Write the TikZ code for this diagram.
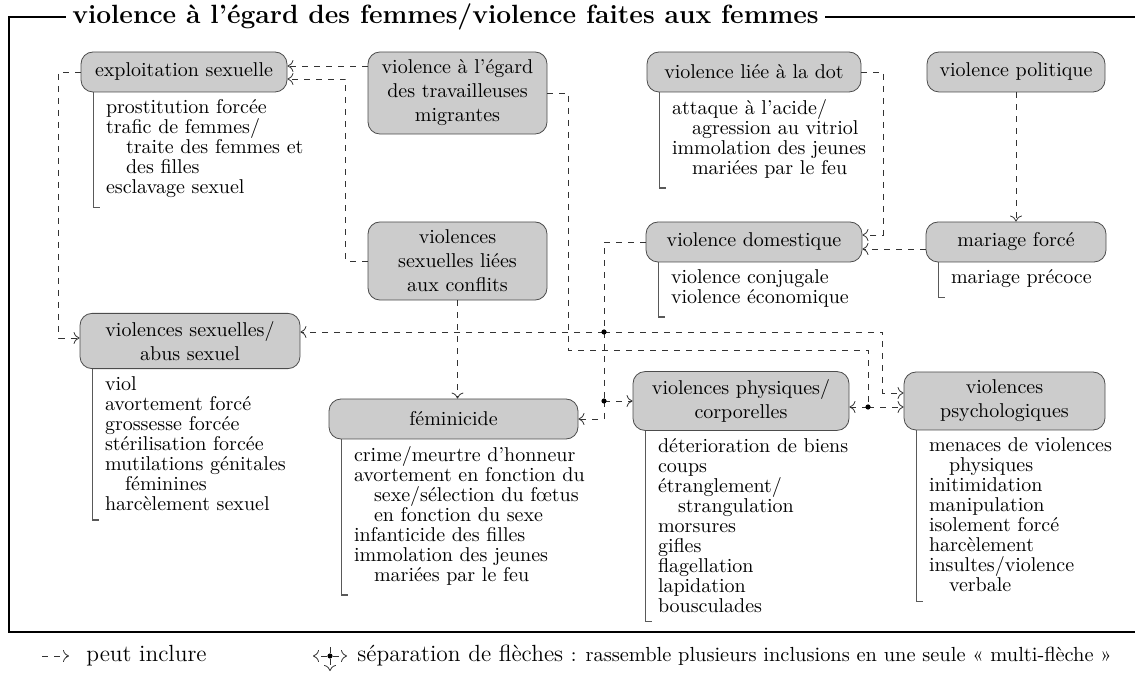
\documentclass[tikz,border=0pt]{standalone}
\usepackage{tikz}
\usetikzlibrary{arrows.meta,positioning}
\tikzset{
    category-box/.style = {draw=black!70, fill=black!20, thin, rectangle, rounded corners=6pt, align=center, inner xsep=5pt, inner ysep=4pt, minimum height=20pt, font=\fontsize{10}{12}\selectfont},
    item-list/.style = {anchor=north west, align=left, inner sep=0pt, font=\fontsize{10}{10}\selectfont},
    item-bar/.style = {draw=black!65, semithick},
    includes/.style = {draw=black!80, dashed, thin, -{To[length=3pt,width=6pt]}},
    joins/.style = {draw=black!80, dashed, thin},
    split-dot/.style = {circle, fill=black, inner sep=0pt, minimum size=2.6pt},
    frame-line/.style = {draw=black, line width=1pt},
    frame-title/.style = {fill=white, inner xsep=3pt, anchor=west, font=\fontsize{13.2}{16}\selectfont\bfseries},
    legend-text/.style = {anchor=west, inner sep=0pt, font=\fontsize{11.7}{14}\selectfont},
}
\newcommand{\wrapline}{\hspace*{10pt}}

\begin{document}
\begin{tikzpicture}[x=0.5pt, y=-0.5pt]
\useasboundingbox (0,0) rectangle (1135,678);
\clip (0,0) rectangle (1135,678);

\draw[frame-line] (1150,17) -- (9,17) -- (9,632) -- (1150,632);
\node[frame-title] (title) at (66,17) {violence à l'égard des femmes/violence faites aux femmes};

\node[category-box, minimum width=103pt] (expl) at (184,72) {exploitation sexuelle};
\node[category-box, minimum width=89.5pt] (migrants) at (457.5,93) {violence à l'égard\\des travailleuses\\migrantes};
\node[category-box, minimum width=107pt] (dowry) at (754,72) {violence liée à la dot};
\node[category-box, minimum width=89pt] (political) at (1016,72) {violence politique};
\node[category-box, minimum width=89.5pt] (conflict) at (457.5,261) {violences\\sexuelles liées\\aux conflits};
\node[category-box, minimum width=108pt] (domestic) at (754,242) {violence domestique};
\node[category-box, minimum width=90pt] (forced-marriage) at (1016,242) {mariage forcé};
\node[category-box, minimum width=110pt] (sexual) at (190,341) {violences sexuelles/\\abus sexuel};
\node[category-box, minimum width=124.5pt] (femicide) at (453.5,419) {féminicide};
\node[category-box, minimum width=108pt] (physical) at (741,401) {violences physiques/\\corporelles};
\node[category-box, minimum width=100.5pt] (psych) at (1004.5,401) {violences\\psychologiques};

\node[item-list] (expl-list) at ([xshift=12.5pt,yshift=-3.5pt]expl.south west) {prostitution forcée\\trafic de femmes/\\\wrapline traite des femmes et\\\wrapline des filles\\esclavage sexuel};
\node[item-list] (dowry-list) at ([xshift=12.5pt,yshift=-3.5pt]dowry.south west) {attaque à l'acide/\\\wrapline agression au vitriol\\immolation des jeunes\\\wrapline mariées par le feu};
\node[item-list] (domestic-list) at ([xshift=12.5pt,yshift=-3.5pt]domestic.south west) {violence conjugale\\violence économique};
\node[item-list] (forced-marriage-list) at ([xshift=12.5pt,yshift=-3.5pt]forced-marriage.south west) {mariage précoce};
\node[item-list] (sexual-list) at ([xshift=12.5pt,yshift=-3.5pt]sexual.south west) {viol\\avortement forcé\\grossesse forcée\\stérilisation forcée\\mutilations génitales\\\wrapline féminines\\harcèlement sexuel};
\node[item-list] (femicide-list) at ([xshift=12.5pt,yshift=-3.5pt]femicide.south west) {crime/meurtre d'honneur\\avortement en fonction du\\\wrapline sexe/sélection du fœtus\\\wrapline en fonction du sexe\\infanticide des filles\\immolation des jeunes\\\wrapline mariées par le feu};
\node[item-list] (physical-list) at ([xshift=12.5pt,yshift=-3.5pt]physical.south west) {déterioration de biens\\coups\\étranglement/\\\wrapline strangulation\\morsures\\gifles\\flagellation\\lapidation\\bousculades};
\node[item-list] (psych-list) at ([xshift=12.5pt,yshift=-3.5pt]psych.south west) {menaces de violences\\\wrapline physiques\\initimidation\\manipulation\\isolement forcé\\harcèlement\\insultes/violence\\\wrapline verbale};

\foreach \cat in {expl, dowry, domestic, forced-marriage, sexual, femicide, physical, psych}
    \draw[item-bar] ([xshift=6.5pt]\cat.south west) |- ([xshift=-3pt,yshift=-4.5pt]\cat-list.south west);

\coordinate (split-upper) at (604,332);
\coordinate (split-lower) at (604,401);
\coordinate (split-right) at (868,407);

\draw[includes] ([yshift=3pt]expl.east -| migrants.west) -- ([yshift=3pt]expl.east);
\draw[includes] (conflict.west) -- ++(-11pt,0) |- ([yshift=-3.5pt]expl.east);
\draw[includes] (expl.west) -- ++(-11pt,0) |- ([yshift=1.5pt]sexual.west);
\draw[includes] (conflict.south) -- (conflict.south |- femicide.north);
\draw[joins] (migrants.east) -- ++(10.5pt,0) |- ([yshift=28.5pt]split-right) -- (split-right);
\draw[includes] (split-right) -- (physical.east |- split-right);
\draw[includes] (split-right) -- (psych.west |- split-right);
\draw[includes] (dowry.east) -- ++(11pt,0) |- ([yshift=3.5pt]domestic.east);
\draw[includes] (political.south) -- (forced-marriage.north);
\draw[includes] ([yshift=-3.5pt]forced-marriage.west) -- ([yshift=-3.5pt]domestic.east);
\draw[joins] (domestic.west) -| (split-upper);
\draw[joins] (split-upper) -- (split-lower);
\draw[includes] (split-upper) -- (sexual.east |- split-upper);
\draw[includes] (split-upper) -| ([xshift=-10.5pt,yshift=4pt]psych.west) -- ([yshift=4pt]psych.west);
\draw[includes] (split-lower) -- (physical.west |- split-lower);
\draw[includes] (split-lower) |- (femicide.east);
\node[split-dot] (split-upper-dot) at (split-upper) {};
\node[split-dot] (split-lower-dot) at (split-lower) {};
\node[split-dot] (split-right-dot) at (split-right) {};

\coordinate (legend-from) at (42,656);
\coordinate (legend-to) at (69,656);
\draw[includes] (legend-from) -- (legend-to);
\node[legend-text] (legend-include) at (86,656) {peut inclure};
\node[split-dot] (legend-dot) at (330,656) {};
\coordinate (legend-left) at (313,656);
\coordinate (legend-right) at (347,656);
\coordinate (legend-up) at (330,643);
\coordinate (legend-down) at (330,671);
\draw[joins] (legend-dot) -- (legend-up);
\draw[includes] (legend-dot) -- (legend-left);
\draw[includes] (legend-dot) -- (legend-right);
\draw[includes] (legend-dot) -- (legend-down);
\node[legend-text] (legend-split) at (357,656) {séparation de flèches {\fontsize{10.2}{12}\selectfont: rassemble plusieurs inclusions en une seule «~multi-flèche~»}};
\end{tikzpicture}
\end{document}
